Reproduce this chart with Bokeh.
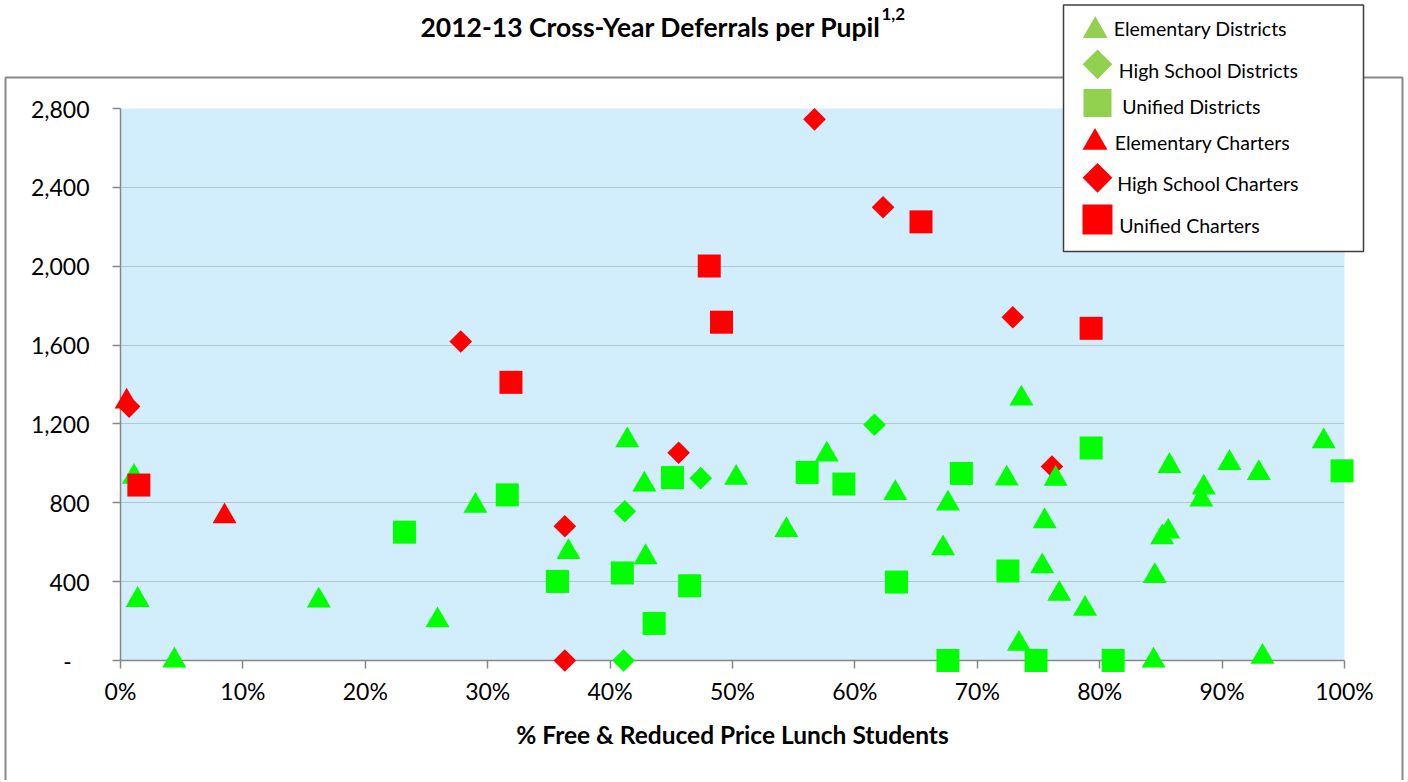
import math
from bokeh.plotting import figure
from bokeh.models import FixedTicker
from bokeh.core.properties import value
from bokeh.embed import file_html
from bokeh.resources import INLINE

# ---------------- data ----------------
x_ticks = [0, 10, 20, 30, 40, 50, 60, 70, 80, 90, 100]
x_tick_labels = ["0%", "10%", "20%", "30%", "40%", "50%", "60%", "70%", "80%", "90%", "100%"]
y_ticks = [0, 400, 800, 1200, 1600, 2000, 2400, 2800]
y_tick_labels = ["-", "400", "800", "1,200", "1,600", "2,000", "2,400", "2,800"]

title_text = "2012-13 Cross-Year Deferrals per Pupil"
title_sup = "1,2"
x_title = "% Free & Reduced Price Lunch Students"

series_names = ["Elementary Districts", "High School Districts", "Unified Districts",
                "Elementary Charters", "High School Charters", "Unified Charters"]

elem_dist_x = [1.1, 1.4, 4.4, 16.2, 25.9, 29.0, 36.6, 41.4, 42.8, 42.9, 50.3, 54.4, 57.7, 63.3,
               67.2, 67.6, 72.4, 73.4, 73.6, 75.3, 75.5, 76.4, 76.7, 78.8, 84.4, 84.5, 85.1,
               85.6, 85.7, 88.3, 88.5, 90.6, 93.0, 93.3, 98.3]
elem_dist_y = [932, 307, 0, 304, 204, 784, 550, 1117, 892, 524, 926, 661, 1045, 849,
               569, 796, 923, 84, 1329, 478, 706, 921, 338, 262, 0, 428, 625,
               654, 986, 816, 877, 1002, 951, 19, 1112]

hs_dist_x = [41.1, 41.2, 47.4, 61.6]
hs_dist_y = [0, 757, 925, 1196]

unif_dist_x = [23.2, 31.6, 35.7, 41.0, 43.6, 45.1, 46.5, 56.1, 59.1, 63.4, 67.6, 68.7, 72.5,
               74.8, 79.3, 81.1, 99.8]
unif_dist_y = [651, 840, 401, 444, 188, 928, 379, 954, 895, 398, 0, 949, 454,
               0, 1078, 0, 962]

elem_chart_x = [0.5, 8.5]
elem_chart_y = [1313, 731]

hs_chart_x = [0.7, 27.8, 36.3, 36.3, 45.6, 56.7, 62.3, 72.9, 76.1]
hs_chart_y = [1288, 1618, 681, 0, 1054, 2745, 2299, 1741, 984]

unif_chart_x = [1.5, 31.9, 48.1, 49.1, 65.4, 79.3]
unif_chart_y = [890, 1411, 2001, 1716, 2225, 1685]

# ---------------- style / layout ----------------
GREEN = "#00FF00"
RED = "#FF0000"
LEG_GREEN = "#92D050"
FONT = "Lato"

FIG_W, FIG_H = 1406, 780
BL, BT = 120, 108
FRAME_W, FRAME_H = 1224, 552
BR = FIG_W - BL - FRAME_W
BB = FIG_H - BT - FRAME_H
PAGE = 0
X0, X1 = 0, 100
Y0, Y1 = 0, 2800
TXT_SHIFT = 8  # text glyph baseline correction (px)


def px2x(px):
    return X0 + (px - PAGE - BL) / FRAME_W * (X1 - X0)


def px2y(py):
    return Y0 + (PAGE + BT + FRAME_H - py) / FRAME_H * (Y1 - Y0)


p = figure(width=FIG_W, height=FIG_H, x_range=(X0, X1), y_range=(Y0, Y1),
           output_backend="svg", toolbar_location=None,
           min_border_left=BL, min_border_right=BR, min_border_top=BT, min_border_bottom=BB,
           background_fill_color="#D2EEFC", border_fill_color="white",
           outline_line_color=None)

# axes
for ax in (p.xaxis[0], p.yaxis[0]):
    ax.axis_line_color = "#878787"
    ax.axis_line_width = 1.5
    ax.major_tick_line_color = "#878787"
    ax.major_tick_line_width = 1.5
    ax.major_tick_out = 8
    ax.major_tick_in = 0
    ax.minor_tick_line_color = None
    ax.major_label_text_font = FONT
    ax.major_label_text_font_size = "23px"
    ax.major_label_text_color = "black"

p.xaxis.ticker = FixedTicker(ticks=x_ticks)
p.xaxis.major_label_overrides = {t: s for t, s in zip(x_ticks, x_tick_labels)}
p.xaxis.major_label_standoff = 8
p.xaxis.axis_label = x_title
p.xaxis.axis_label_text_font = FONT
p.xaxis.axis_label_text_font_style = "bold"
p.xaxis.axis_label_text_font_size = "24.5px"
p.xaxis.axis_label_text_color = "black"
p.xaxis.axis_label_standoff = 12

p.yaxis.ticker = FixedTicker(ticks=y_ticks)
ylabels = list(y_tick_labels)
ylabels[0] = ylabels[0] + "\u00a0\u00a0\u00a0"
p.yaxis.major_label_overrides = {t: s for t, s in zip(y_ticks, ylabels)}
p.yaxis.major_label_standoff = 23

p.xgrid.visible = False
p.ygrid.ticker = FixedTicker(ticks=y_ticks)
p.ygrid.grid_line_color = "#9a9a9a"
p.ygrid.grid_line_dash = "1 1"
p.ygrid.grid_line_width = 1

# outer chart border
p.quad(left=[px2x(5)], right=[px2x(1402)], top=[px2y(77)], bottom=[px2y(900)],
       fill_color=None, line_color="#898989", line_width=2, level="overlay")

# data series (drawn above axes like the original)
TRI, SQ, DIA = 24, 23, 16
p.scatter(hs_chart_x, hs_chart_y, marker="square", angle=math.pi / 4, size=DIA,
          fill_color=RED, line_color=None, level="overlay")
p.scatter(elem_dist_x, elem_dist_y, marker="triangle", size=TRI,
          fill_color=GREEN, line_color=None, level="overlay")
p.scatter(hs_dist_x, hs_dist_y, marker="square", angle=math.pi / 4, size=DIA,
          fill_color=GREEN, line_color=None, level="overlay")
p.scatter(unif_dist_x, unif_dist_y, marker="square", size=SQ,
          fill_color=GREEN, line_color=None, level="overlay")
p.scatter(elem_chart_x, elem_chart_y, marker="triangle", size=TRI,
          fill_color=RED, line_color=None, level="overlay")
p.scatter(unif_chart_x, unif_chart_y, marker="square", size=SQ,
          fill_color=RED, line_color=None, level="overlay")

# legend box
p.quad(left=[px2x(1063)], right=[px2x(1363)], top=[px2y(4.5)], bottom=[px2y(251)],
       fill_color="white", line_color="#3f3f3f", line_width=1.5, level="overlay")
leg_mx = [1094.7, 1097, 1097, 1094.5, 1097, 1097]
leg_my = [30.2, 63.8, 102.5, 142.0, 177.3, 219]
leg_marker = ["triangle", "square", "square", "triangle", "square", "square"]
leg_angle = [0, math.pi / 4, 0, 0, math.pi / 4, 0]
leg_size = [25, 21, 28, 25, 21, 30]
leg_color = [LEG_GREEN] * 3 + [RED] * 3
leg_alpha = [1] * 6
# an invisible helper entry with a large size keeps the legend symbols (which lie
# above the plot frame) from being culled by the marker viewport test
lx = [px2x(v) for v in leg_mx] + [px2x(1200)]
ly = [px2y(v) for v in leg_my] + [px2y(120)]
p.scatter(x=lx, y=ly, marker=leg_marker + ["square"], angle=leg_angle + [0],
          size=leg_size + [400], fill_color=leg_color + ["white"],
          fill_alpha=leg_alpha + [0], line_color=None, level="overlay")
leg_tx = [1113.3, 1118.3, 1121.7, 1114.3, 1116.7, 1118.7]
leg_ty = [36, 77.7, 114.3, 150, 190.7, 233.3]
p.text(x=[px2x(v) for v in leg_tx], y=[px2y(v - TXT_SHIFT) for v in leg_ty], text=series_names,
       text_font=value(FONT), text_font_size="19.5px", text_color="black",
       text_align="left", text_baseline="alphabetic", level="overlay")

# title with superscript
p.text(x=[px2x(420)], y=[px2y(34 - TXT_SHIFT)], text=[title_text], text_font=value(FONT),
       text_font_style="bold", text_font_size="26.5px", text_color="black",
       text_align="left", text_baseline="alphabetic", level="overlay")
p.text(x=[px2x(881)], y=[px2y(21 - TXT_SHIFT)], text=[title_sup], text_font=value(FONT),
       text_font_style="bold", text_font_size="17px", text_color="black",
       text_align="left", text_baseline="alphabetic", level="overlay")

open("out.html", "w").write(file_html(p, INLINE))
